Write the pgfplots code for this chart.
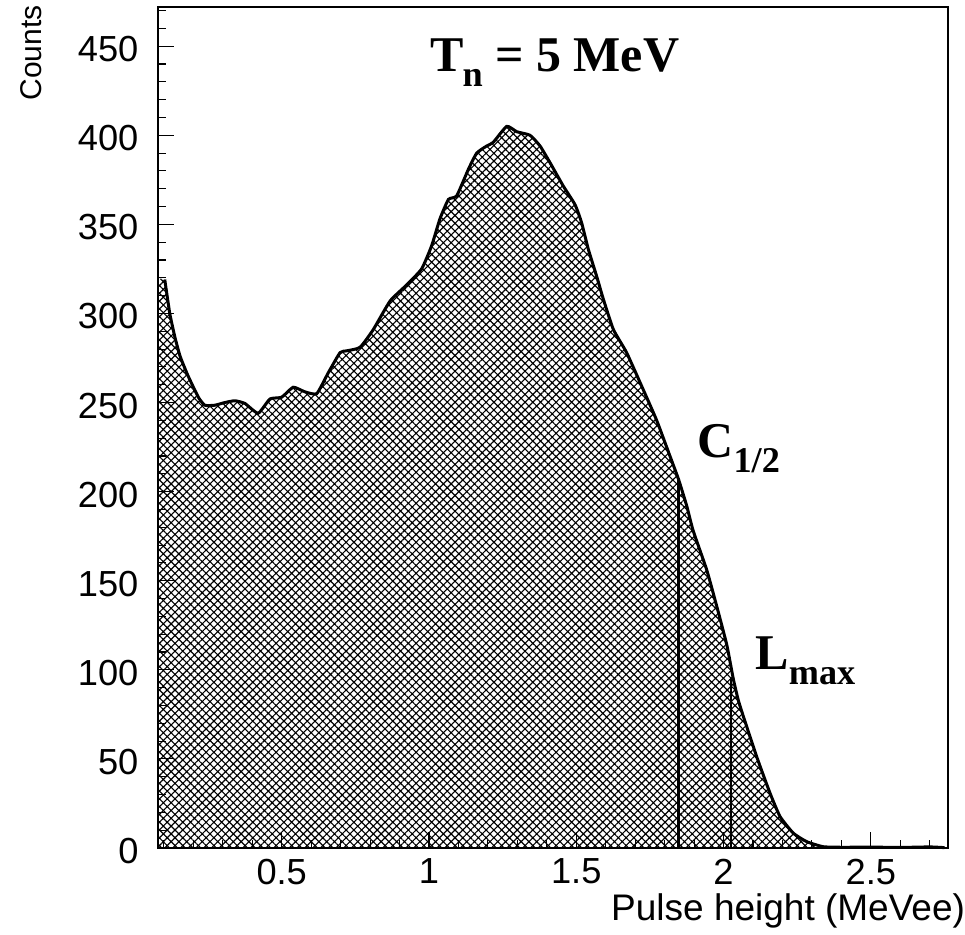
\documentclass[border=0pt]{standalone}
\usepackage{fontspec}
\setmainfont{Liberation Sans}
\newfontfamily\tnr{Liberation Serif}
\usepackage{pgfplots}
\pgfplotsset{compat=1.18}
\usetikzlibrary{patterns.meta}

\pgfplotstableread{
x y
0.080 319
0.103 319
0.120 300
0.137 287
0.155 276
0.182 265
0.217 253
0.239 248.5
0.273 248.5
0.307 250
0.341 251
0.375 249.5
0.420 244
0.460 252
0.500 253
0.539 258.6
0.579 256
0.619 255
0.658 266.7
0.698 278
0.720 279
0.766 281
0.811 291
0.868 307
0.924 316
0.975 325
1.009 338
1.037 353
1.066 364
1.094 366
1.134 381
1.162 390
1.196 394
1.218 396
1.264 405
1.298 402
1.343 400
1.377 394
1.411 384.6
1.456 371.5
1.496 361
1.518 351
1.541 336
1.569 321
1.592 308
1.626 291
1.671 278
1.728 257
1.773 240
1.818 220
1.847 207
1.875 192
1.897 178
1.943 156
1.977 135.6
2.011 114
2.033 95
2.050 83
2.067 74
2.113 51
2.158 30.7
2.192 17.6
2.237 8.3
2.283 3.5
2.339 0.7
2.407 0.4
2.500 0.5
2.600 0.3
2.700 0.6
2.750 0.2
}\spectrum

\begin{document}
\begin{tikzpicture}
\useasboundingbox (-63.2pt,-34.8pt) rectangle (322.8pt,339.2pt);
\begin{axis}[
  at={(0,0)}, anchor=south west,
  scale only axis, width=316pt, height=336.4pt,
  xmin=0.08, xmax=2.762, ymin=0, ymax=472,
  clip=false,
  axis line style={line width=0.7pt},
  tick align=inside, xtick pos=bottom, ytick pos=left,
  xtick={0.5,1,1.5,2,2.5}, xticklabels={0.5,1,1.5,2,2.5},
  ytick={0,50,100,150,200,250,300,350,400,450},
  minor xtick={0.1,0.2,0.3,0.4,0.6,0.7,0.8,0.9,1.1,1.2,1.3,1.4,1.6,1.7,1.8,1.9,2.1,2.2,2.3,2.4,2.6,2.7},
  minor ytick={10,20,30,40,60,70,80,90,110,120,130,140,160,170,180,190,210,220,230,240,260,270,280,290,310,320,330,340,360,370,380,390,410,420,430,440,460,470},
  major tick length=6.4pt, minor tick length=3.2pt,
  every tick/.style={black, line width=0.45pt},
  tick label style={font=\fontsize{14.5}{16}\selectfont},
  /pgf/number format/assume math mode=true,
  yticklabel style={xshift=-4.3pt, yshift=-1.2pt},
  xticklabel style={yshift=-0.8pt},
]
\addplot[draw=none, smooth, tension=0.3, pattern={Hatch[angle=45,distance=2.2pt,line width=0.45pt]}] table[x=x,y=y] {\spectrum} \closedcycle;
\addplot[black, line width=1.2pt, smooth, tension=0.3, restrict x to domain=0.1:3] table[x=x,y=y] {\spectrum};
\addplot[black, line width=1pt] coordinates {(1.847,0) (1.847,207)};
\addplot[black, line width=1pt] coordinates {(2.025,0) (2.025,95)};

\node[anchor=base west, inner sep=0pt, font=\tnr\bfseries\fontsize{20}{24}\selectfont]
  at ([xshift=108.8pt,yshift=310.7pt]rel axis cs:0,0) {T\kern-0.5pt\raisebox{-6pt}{\fontsize{14.5}{15}\selectfont n} = 5 MeV};
\node[anchor=base west, inner sep=0pt, font=\tnr\bfseries\fontsize{20}{24}\selectfont]
  at ([xshift=215.6pt,yshift=156.2pt]rel axis cs:0,0) {C\raisebox{-6pt}{\fontsize{14.5}{15}\selectfont 1/2}};
\node[anchor=base west, inner sep=0pt, font=\tnr\bfseries\fontsize{20}{24}\selectfont]
  at ([xshift=238.8pt,yshift=71.2pt]rel axis cs:0,0) {L\raisebox{-6pt}{\fontsize{14.5}{15}\selectfont max}};
\node[anchor=base east, inner sep=0pt, font=\fontsize{14.8}{17}\selectfont]
  at ([xshift=7pt,yshift=-29.2pt]rel axis cs:1,0) {Pulse height (MeVee)};
\node[rotate=90, anchor=base east, inner sep=0pt, font=\fontsize{12}{14}\selectfont]
  at ([xshift=-46.4pt,yshift=0.8pt]rel axis cs:0,1) {Counts};
\end{axis}
\end{tikzpicture}
\end{document}
